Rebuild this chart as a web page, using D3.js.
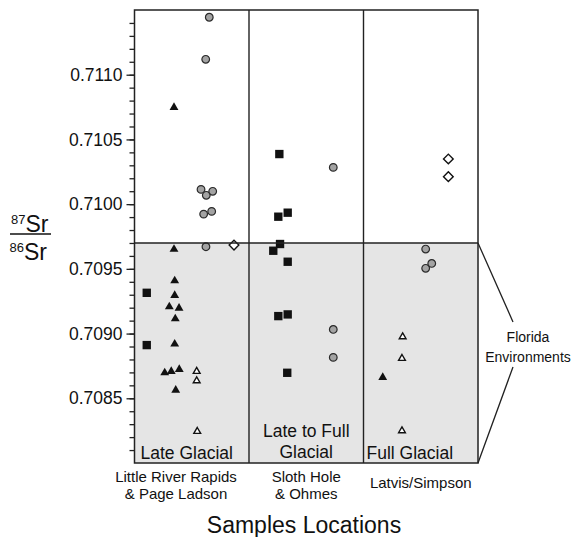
<!DOCTYPE html>
<html>
<head>
<meta charset="utf-8">
<script src="https://cdn.jsdelivr.net/npm/d3@7"></script>
<style>
  body { margin: 0; background: #fff; }
  svg text { font-family: "Liberation Sans", Arial, Helvetica, sans-serif; fill: #111; }
</style>
</head>
<body>
<div id="chart"></div>
<script>
// Sites along the x axis and the period label of each column
var sites = ["Little River Rapids|& Page Ladson", "Sloth Hole|& Ohmes", "Latvis/Simpson"];
var periods = ["Late Glacial", "Late to Full|Glacial", "Full Glacial"];

// y axis ticks
var majorTicks = [0.7085, 0.7090, 0.7095, 0.7100, 0.7105, 0.7110];
var minorTicks = d3.range(7081, 7115).map(function(d) { return d / 10000; });
var yDomain = [0.7080, 0.7115];
var floridaCutoff = 0.7097;

// samples: [position along sample axis, 87Sr/86Sr]
var filledTriangles = [
  [0.345, 0.710748], [0.345, 0.709651], [0.351, 0.709408], [0.351, 0.709295],
  [0.304, 0.709207], [0.389, 0.709197], [0.356, 0.709114], [0.351, 0.708919],
  [0.264, 0.708697], [0.321, 0.708708], [0.391, 0.708723], [0.360, 0.708563],
  [2.168, 0.708661]
];
var openTriangles = [
  [0.543, 0.708708], [0.543, 0.708635], [0.548, 0.708244],
  [2.342, 0.708975], [2.336, 0.708808], [2.336, 0.708249]
];
var squares = [
  [0.107, 0.709315], [0.107, 0.708911],
  [1.265, 0.710387], [1.338, 0.709934], [1.256, 0.709903], [1.271, 0.709692],
  [1.212, 0.709640], [1.338, 0.709555], [1.338, 0.709148], [1.256, 0.709135],
  [1.334, 0.708697]
];
var circles = [
  [0.653, 0.711444], [0.622, 0.711119], [0.581, 0.710114], [0.627, 0.710068],
  [0.683, 0.710099], [0.604, 0.709923], [0.674, 0.709944], [0.624, 0.709671],
  [1.736, 0.710284], [1.736, 0.709032], [1.736, 0.708816],
  [2.543, 0.709653], [2.543, 0.709504], [2.596, 0.709542]
];
var diamonds = [
  [0.869, 0.709684], [2.741, 0.710349], [2.741, 0.710212]
];

(function() {
var width = 577, height = 537;
var pLeft = 134.5, pRight = 478, pTop = 10, pBottom = 463;

var svg = d3.select("#chart").append("svg")
  .attr("width", width)
  .attr("height", height);

var x = d3.scaleLinear().domain([0, sites.length]).range([pLeft, pRight]);
var y = d3.scaleLinear().domain(yDomain).range([pBottom, pTop]);

// shaded florida band
svg.append("rect")
  .attr("x", x(0)).attr("y", y(floridaCutoff))
  .attr("width", x(3) - x(0)).attr("height", y(yDomain[0]) - y(floridaCutoff))
  .attr("fill", "#e5e5e5");

// period labels inside columns
periods.forEach(function(p, i) {
  var lines = p.split("|");
  var t = svg.append("text").style("font-size", "17.5px");
  if (lines.length > 1) {
    t.attr("text-anchor", "middle");
    lines.forEach(function(l, j) {
      t.append("tspan").attr("x", x(i + 0.5)).attr("y", 437 + j * 20.5).text(l);
    });
  } else {
    t.attr("x", x(i) + (i === 0 ? 6 : 3)).attr("y", 459).text(p);
  }
});

// markers
var sym = function(type, size) { return d3.symbol().type(type).size(size)(); };
var diamondType = d3.symbolDiamond2 || d3.symbolDiamond;

function drawPoints(data, path, fill, stroke, sw) {
  svg.append("g").selectAll("path")
    .data(data).enter().append("path")
    .attr("transform", function(d) { return "translate(" + x(d[0]) + "," + y(d[1]) + ")"; })
    .attr("d", path)
    .attr("fill", fill)
    .attr("stroke", stroke)
    .attr("stroke-width", sw);
}

drawPoints(circles, sym(d3.symbolCircle, 46), "#a3a3a3", "#2a2a2a", 1.2);
drawPoints(squares, sym(d3.symbolSquare, 70), "#111", "none", 0);
drawPoints(filledTriangles, sym(d3.symbolTriangle, 34), "#111", "none", 0);
drawPoints(openTriangles, sym(d3.symbolTriangle, 20), "#fff", "#111", 1.4);
drawPoints(diamonds, sym(diamondType, 60), "#fff", "#111", 1.4);

// frame and column dividers
svg.append("line")
  .attr("x1", x(0)).attr("x2", x(3))
  .attr("y1", y(floridaCutoff)).attr("y2", y(floridaCutoff))
  .attr("stroke", "#222").attr("stroke-width", 1.4);

svg.append("g").selectAll("line")
  .data([1, 2]).enter().append("line")
  .attr("x1", function(d) { return x(d); }).attr("x2", function(d) { return x(d); })
  .attr("y1", pTop).attr("y2", pBottom)
  .attr("stroke", "#222").attr("stroke-width", 1.4);

svg.append("rect")
  .attr("x", x(0)).attr("y", pTop)
  .attr("width", x(3) - x(0)).attr("height", pBottom - pTop)
  .attr("fill", "none").attr("stroke", "#222").attr("stroke-width", 1.5);

// y axis
var minorAxis = d3.axisLeft(y).tickValues(minorTicks).tickSize(5).tickFormat("");
var majorAxis = d3.axisLeft(y).tickValues(majorTicks).tickSize(8).tickPadding(4)
  .tickFormat(d3.format(".4f"));

svg.append("g").attr("transform", "translate(" + pLeft + ",0)").call(minorAxis)
  .call(function(g) { g.select(".domain").remove(); })
  .selectAll("line").attr("stroke", "#222").attr("stroke-width", 1.3);

var yg = svg.append("g").attr("transform", "translate(" + pLeft + ",0)").call(majorAxis);
yg.select(".domain").remove();
yg.selectAll("line").attr("stroke", "#222").attr("stroke-width", 1.3);
yg.selectAll("text")
  .style("font-size", "17.5px")
  .style("font-family", "'Liberation Sans', Arial, sans-serif")
  .attr("fill", "#111");

// y label: 87Sr / 86Sr
var ylab = svg.append("g");
var num = ylab.append("text").attr("x", 11).attr("y", 231.5);
num.append("tspan").style("font-size", "13px").attr("dy", -8).text("87");
num.append("tspan").style("font-size", "23px").attr("dy", 8).text("Sr");
ylab.append("line")
  .attr("x1", 10).attr("x2", 51).attr("y1", 234).attr("y2", 234)
  .attr("stroke", "#111").attr("stroke-width", 1.3);
var den = ylab.append("text").attr("x", 9.5).attr("y", 260);
den.append("tspan").style("font-size", "13px").attr("dy", -8).text("86");
den.append("tspan").style("font-size", "23px").attr("dy", 8).text("Sr");

// site labels
var siteCenters = [176, x(1.5), x(2.5)];
sites.forEach(function(s, i) {
  var lines = s.split("|");
  var t = svg.append("text").attr("text-anchor", "middle").style("font-size", "15px");
  var y0 = lines.length > 1 ? 481.5 : 488;
  lines.forEach(function(l, j) {
    t.append("tspan").attr("x", siteCenters[i]).attr("y", y0 + j * 17.5).text(l);
  });
});

// x axis title
svg.append("text")
  .attr("x", 304).attr("y", 533)
  .attr("text-anchor", "middle")
  .style("font-size", "23px")
  .text("Samples Locations");

// florida bracket
svg.append("path")
  .attr("d", "M" + x(3) + "," + y(floridaCutoff) + "L513,322 M513,367 L" + x(3) + "," + y(yDomain[0]))
  .attr("fill", "none").attr("stroke", "#222").attr("stroke-width", 1.3);

var fl = svg.append("text").attr("text-anchor", "middle").style("font-size", "14px");
fl.append("tspan").attr("x", 528).attr("y", 341.5).text("Florida");
fl.append("tspan").attr("x", 528).attr("y", 361.5).text("Environments");
})();
</script>
</body>
</html>
